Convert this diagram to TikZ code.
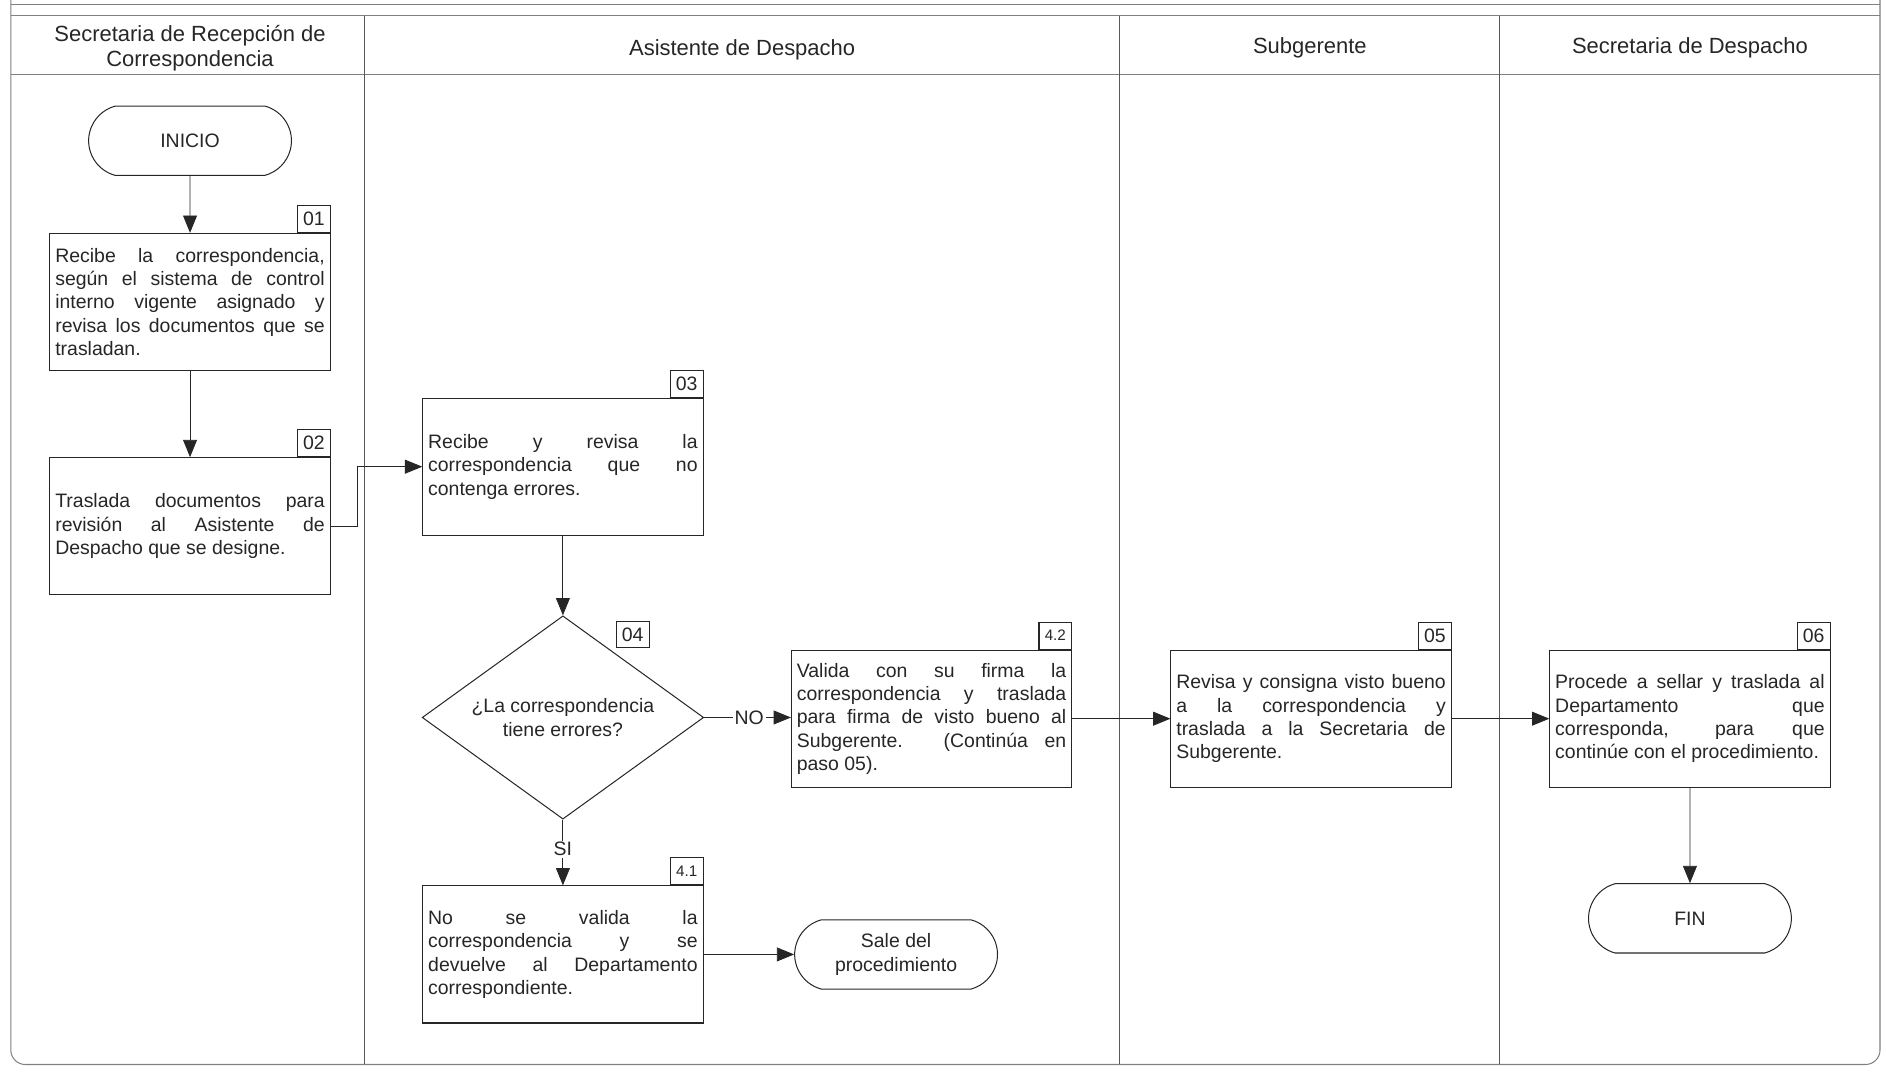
\documentclass[tikz,border=0pt]{standalone}
\usepackage{fontspec}
\setmainfont{Liberation Sans}
\usetikzlibrary{arrows.meta,shapes.geometric,shapes.misc}
\tolerance=10000
\hbadness=10000

\tikzset{
  texto/.style={text=black!85, font=\fontsize{11.5}{13.8}\selectfont},
  paso/.style={texto, draw=black!85, line width=0.6pt, minimum width=58.25mm,
    minimum height=28.5mm, text width=56mm, inner xsep=1.1mm, align=justify},
  num/.style={texto, draw=black!85, line width=0.6pt, minimum width=6.8mm,
    minimum height=5.6mm, inner sep=0pt},
  numchico/.style={num, font=\fontsize{9}{10}\selectfont},
  terminal/.style={texto, draw=black!85, line width=0.6pt, rounded rectangle,
    rounded rectangle arc length=150, minimum width=44.5mm, minimum height=14.4mm,
    align=center},
  decision/.style={texto, draw=black!85, line width=0.6pt, diamond, aspect=1.385,
    minimum width=58.5mm, minimum height=42.25mm, inner sep=0pt, align=center},
  flecha/.style={draw=black!85, line width=0.5pt, -{Triangle[length=3.6mm,width=2.9mm]}},
  rotulo/.style={texto, fill=white, inner sep=1pt},
  cabecera/.style={text=black!85, align=center, font=\fontsize{13}{14.5}\selectfont},
  carril/.style={draw=black!50, line width=0.6pt},
}

\begin{document}
\begin{tikzpicture}[x=0.25mm, y=-0.25mm]
    \useasboundingbox (0,0) rectangle (1568,896);

    % Frame and lanes
    \draw[carril, rounded corners=3mm] (9,0) -- (9,885) -- (1563,885) -- (1563,0);
    \draw[carril] (9,4) -- (1563,4);
    \draw[carril] (9,13) -- (1563,13);
    \draw[carril] (9,62) -- (1563,62);
    \foreach \x in {303,931,1247}
        \draw[carril, draw=black!65] (\x,13) -- (\x,885);

    % Lane headers
    \node[cabecera] (h1) at (158,40) {Secretaria de Recepción de\\Correspondencia};
    \node[cabecera] (h2) at (617,41) {Asistente de Despacho};
    \node[cabecera] (h3) at (1089,40) {Subgerente};
    \node[cabecera] (h4) at (1405,40) {Secretaria de Despacho};

    % Secretaria de Recepcion
    \node[terminal] (inicio) at (158,117) {INICIO};
    \node[paso] (p01) at (158,251) {Recibe la correspondencia,\linebreak
        según el sistema de control\linebreak interno vigente asignado y\linebreak
        revisa los documentos que se\linebreak trasladan.};
    \node[num, anchor=south east] (n01) at (p01.north east) {01};
    \node[paso] (p02) at (158,437.5) {Traslada documentos para\linebreak
        revisión al Asistente de\linebreak Despacho que se designe.};
    \node[num, anchor=south east] (n02) at (p02.north east) {02};

    % Asistente de Despacho
    \node[paso] (p03) at (468,388) {Recibe y revisa la\linebreak
        correspondencia que no\linebreak contenga errores.};
    \node[num, anchor=south east] (n03) at (p03.north east) {03};
    \node[decision] (d04) at (468,596.5) {¿La correspondencia\\tiene errores?};
    \node[num] (n04) at (526,527.5) {04};
    \node[paso] (p42) at (774.5,597.5) {Valida con su firma la\linebreak
        correspondencia y traslada\linebreak para firma de visto bueno al\linebreak
        Subgerente. (Continúa en\linebreak paso 05).};
    \node[numchico, anchor=south east] (n42) at (p42.north east) {4.2};
    \node[paso] (p41) at (468,793.5) {No se valida la\linebreak
        correspondencia y se\linebreak devuelve al Departamento\linebreak
        correspondiente.};
    \node[numchico, anchor=south east] (n41) at (p41.north east) {4.1};
    \node[terminal] (sale) at (745,793.5) {Sale del\\procedimiento};

    % Subgerente
    \node[paso] (p05) at (1090,597.5) {Revisa y consigna visto bueno\linebreak
        a la correspondencia y\linebreak traslada a la Secretaria de\linebreak
        Subgerente.};
    \node[num, anchor=south east] (n05) at (p05.north east) {05};

    % Secretaria de Despacho
    \node[paso] (p06) at (1405,597.5) {Procede a sellar y traslada al\linebreak
        Departamento que\linebreak corresponda, para que\linebreak
        continúe con el procedimiento.};
    \node[num, anchor=south east] (n06) at (p06.north east) {06};
    \node[terminal] (fin) at (1405,763.5) {FIN};

    % Connectors
    \draw[flecha] (inicio) -- (p01);
    \draw[flecha] (p01) -- (p02);
    \draw[flecha] (p02.east) -- ++(22,0) |- (p03.west);
    \draw[flecha] (p03) -- (d04);
    \draw[flecha] (d04.east) -- node[rotulo, pos=0.52] {NO} (d04.east -| p42.west);
    \draw[flecha] (d04.south) -- node[rotulo, pos=0.45] {SI} (p41.north);
    \draw[flecha] (p42) -- (p05);
    \draw[flecha] (p05) -- (p06);
    \draw[flecha] (p06) -- (fin);
    \draw[flecha] (p41) -- (sale);
\end{tikzpicture}
\end{document}
